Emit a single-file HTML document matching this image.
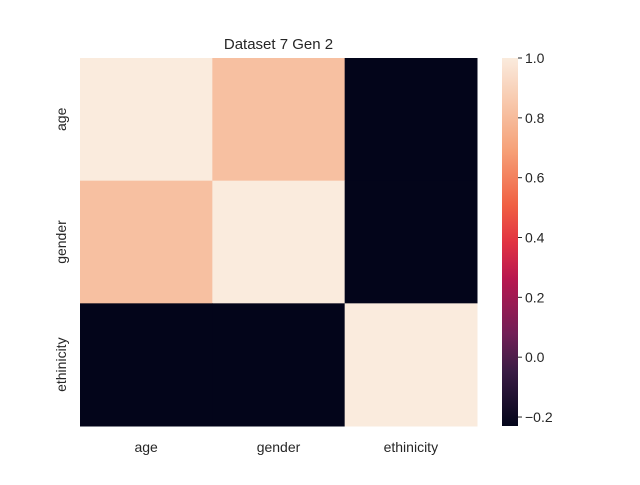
<!DOCTYPE html>
<html><head><meta charset="utf-8"><style>
body{margin:0;background:#fff;}
svg text{font-family:"Liberation Sans","DejaVu Sans",sans-serif;fill:#262626;}
</style></head><body>
<svg id="c" width="640" height="480">
<defs><linearGradient id="g" x1="0" y1="1" x2="0" y2="0"></linearGradient></defs>
</svg>
<script>
const labels=["age","gender","ethinicity"];
const values=[[1.0,0.82,-0.23],[0.82,1.0,-0.23],[-0.23,-0.23,1.0]];
const cbTicks=[-0.2,0.0,0.2,0.4,0.6,0.8,1.0];
const vmin=-0.23,vmax=1.0;
const stops=[[0,[3,5,26]],[0.15,[59,28,69]],[0.25,[113,31,87]],[0.4,[184,23,79]],[0.5,[225,51,66]],[0.6,[240,96,67]],[0.75,[246,161,120]],[0.88,[247,200,172]],[1,[250,235,221]]];
function cmap(t){t=Math.max(0,Math.min(1,t));for(let i=1;i<stops.length;i++){if(t<=stops[i][0]){const a=stops[i-1],b=stops[i],f=(t-a[0])/(b[0]-a[0]);return 'rgb('+a[1].map((v,k)=>Math.round(v+(b[1][k]-v)*f)).join(',')+')';}}return 'rgb(250,235,221)';}
const svg=document.getElementById('c'),NS='http://www.w3.org/2000/svg';
function mk(t,a,p){const e=document.createElementNS(NS,t);for(const k in a)e.setAttribute(k,a[k]);(p||svg).appendChild(e);return e;}
const X0=80,Y0=58,W=397,H=368,n=labels.length,cw=W/n,ch=H/n;
const xs=i=>X0+i*cw, ys=i=>Y0+i*ch;
for(let r=0;r<n;r++)for(let c=0;c<n;c++){
 const e=mk('rect',{x:xs(c),y:ys(r),width:cw+0.5,height:ch+0.5,fill:cmap((values[r][c]-vmin)/(vmax-vmin))});
 
 
}
labels.forEach((l,i)=>{
 const t=mk('text',{x:xs(i)+cw/2,y:452,'text-anchor':'middle','font-size':14});t.textContent=l;
 
 const y=ys(i)+ch/2;
 const u=mk('text',{x:0,y:0,'text-anchor':'middle','font-size':14,transform:'translate(66,'+y+') rotate(-90)'});u.textContent=l;
 
});
const tt=mk('text',{x:278.5,y:49,'text-anchor':'middle','font-size':15});tt.textContent='Dataset 7 Gen 2';

const g=svg.querySelector('#g');
for(let i=0;i<=20;i++){mk('stop',{offset:i/20,'stop-color':cmap(i/20)},g);}
const CB={x:502,y:58,w:16,h:368};
const cb=mk('rect',{x:CB.x,y:CB.y,width:CB.w,height:CB.h,fill:'url(#g)'});

const cy=v=>CB.y+CB.h*(vmax-v)/(vmax-vmin);
cbTicks.forEach(v=>{
 const y=cy(v);
 mk('line',{x1:CB.x+CB.w,x2:CB.x+CB.w+4,y1:y,y2:y,stroke:'#262626','stroke-width':1});
 const t=mk('text',{x:CB.x+CB.w+7,y:y+5,'font-size':14});t.textContent=v.toFixed(1).replace('-','−');
 
});
</script>
</body></html>
